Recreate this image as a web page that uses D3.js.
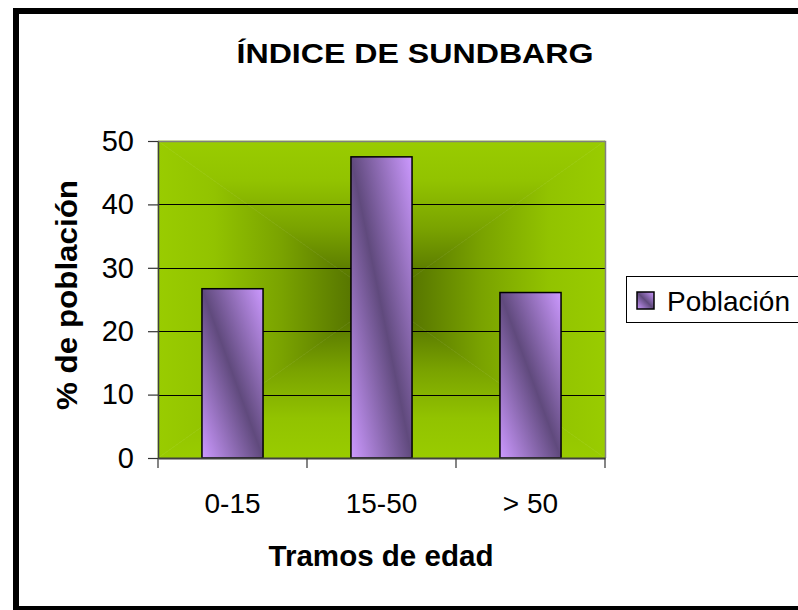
<!DOCTYPE html>
<html>
<head>
<meta charset="utf-8">
<script src="https://cdn.jsdelivr.net/npm/d3@7"></script>
<style>
  html, body { margin: 0; padding: 0; background: #fff; overflow: hidden; }
  svg { display: block; font-family: "Liberation Sans", Arial, sans-serif; }
</style>
</head>
<body>
<div id="chart"></div>
<script>
const categories = ["0-15", "15-50", "> 50"];
const values = [26.7, 47.5, 26.1];
const yTicks = [0, 10, 20, 30, 40, 50];
const seriesName = "Población";
const title = "ÍNDICE DE SUNDBARG";
const xTitle = "Tramos de edad";
const yTitle = "% de población";

const width = 798;
const height = 610;
const plot = { left: 158, top: 141, right: 605, bottom: 458 };

const svg = d3.select("#chart").append("svg")
  .attr("width", width)
  .attr("height", height);

const defs = svg.append("defs");

// bar fill: light corners, dark along the diagonal
const barGrad = defs.append("linearGradient")
  .attr("id", "barGrad")
  .attr("x1", 1).attr("y1", 0)
  .attr("x2", 0).attr("y2", 1);
barGrad.append("stop").attr("offset", 0).attr("stop-color", "#cc99ff");
barGrad.append("stop").attr("offset", 0.5).attr("stop-color", "#604a7d");
barGrad.append("stop").attr("offset", 1).attr("stop-color", "#cc99ff");

// outer chart border (right side runs off the picture)
svg.append("rect")
  .attr("x", 16).attr("y", 11)
  .attr("width", 830).attr("height", 598)
  .attr("fill", "#fff")
  .attr("stroke", "#000")
  .attr("stroke-width", 6);

const x = d3.scaleBand()
  .domain(categories)
  .range([plot.left, plot.right]);

const y = d3.scaleLinear()
  .domain([0, 50])
  .range([plot.bottom, plot.top]);

// plot background: rectangular "from center" gradient, four triangles
const cx = (plot.left + plot.right) / 2;
const cy = (plot.top + plot.bottom) / 2;
const light = "#99cc00";
const stops = [
  [0, light], [0.25, "#92c300"], [0.55, "#7aa300"], [0.8, "#5e7f00"], [1, "#4a6400"]
];
const sides = [
  { id: "gT", x1: 0, y1: plot.top, x2: 0, y2: cy,
    pts: [[plot.left, plot.top], [plot.right, plot.top], [cx, cy]] },
  { id: "gB", x1: 0, y1: plot.bottom, x2: 0, y2: cy,
    pts: [[plot.left, plot.bottom], [plot.right, plot.bottom], [cx, cy]] },
  { id: "gL", x1: plot.left, y1: 0, x2: cx, y2: 0,
    pts: [[plot.left, plot.top], [plot.left, plot.bottom], [cx, cy]] },
  { id: "gR", x1: plot.right, y1: 0, x2: cx, y2: 0,
    pts: [[plot.right, plot.top], [plot.right, plot.bottom], [cx, cy]] }
];
sides.forEach(s => {
  const g = defs.append("linearGradient")
    .attr("id", s.id)
    .attr("gradientUnits", "userSpaceOnUse")
    .attr("x1", s.x1).attr("y1", s.y1)
    .attr("x2", s.x2).attr("y2", s.y2);
  stops.forEach(st => g.append("stop").attr("offset", st[0]).attr("stop-color", st[1]));
  svg.append("path")
    .attr("d", d3.line()(s.pts) + "Z")
    .attr("fill", `url(#${s.id})`)
    .attr("stroke", `url(#${s.id})`)
    .attr("stroke-width", 0.6);
});

// gridlines
svg.append("g")
  .selectAll("line")
  .data(yTicks.filter(d => d > 0 && d < 50))
  .join("line")
  .attr("x1", plot.left).attr("x2", plot.right)
  .attr("y1", d => Math.round(y(d)) + 0.5)
  .attr("y2", d => Math.round(y(d)) + 0.5)
  .attr("stroke", "#000")
  .attr("stroke-width", 1);

// plot border top/right
svg.append("path")
  .attr("d", `M${plot.left},${plot.top + 0.5}H${plot.right + 0.5}V${plot.bottom}`)
  .attr("fill", "none")
  .attr("stroke", "#808080")
  .attr("stroke-width", 1.5);

// bars
const barW = x.bandwidth() * 0.41;
svg.append("g")
  .selectAll("rect")
  .data(values)
  .join("rect")
  .attr("x", (d, i) => x(categories[i]) + (x.bandwidth() - barW) / 2)
  .attr("y", d => y(d))
  .attr("width", barW)
  .attr("height", d => y(0) - y(d))
  .attr("fill", "url(#barGrad)")
  .attr("stroke", "#000")
  .attr("stroke-width", 1.5);

// y axis
const yAxis = svg.append("g")
  .attr("transform", `translate(${plot.left},0)`)
  .call(d3.axisLeft(y).tickValues(yTicks).tickSize(10).tickPadding(14).tickSizeOuter(0));
yAxis.select(".domain").attr("stroke", "#404040").attr("stroke-width", 1.5);
yAxis.selectAll(".tick line").attr("stroke", "#333").attr("stroke-width", 1.2);
yAxis.selectAll("text")
  .attr("font-size", 29)
  .attr("fill", "#000")
  .attr("font-family", "Liberation Sans, Arial, sans-serif");

// x axis (labels centered in bands, ticks at band edges)
const xAxis = svg.append("g")
  .attr("transform", `translate(0,${plot.bottom})`)
  .call(d3.axisBottom(x).tickSize(0).tickPadding(35).tickSizeOuter(0));
xAxis.select(".domain").attr("stroke", "#404040").attr("stroke-width", 2);
xAxis.selectAll("text")
  .attr("font-size", 28)
  .attr("fill", "#000")
  .attr("font-family", "Liberation Sans, Arial, sans-serif");

const edges = categories.map(c => x(c)).concat([x(categories[categories.length - 1]) + x.bandwidth()]);
svg.append("g")
  .selectAll("line")
  .data(edges)
  .join("line")
  .attr("x1", d => d).attr("x2", d => d)
  .attr("y1", plot.bottom).attr("y2", plot.bottom + 10)
  .attr("stroke", "#333")
  .attr("stroke-width", 1.2);

// titles
svg.append("text")
  .attr("x", 415).attr("y", 63)
  .attr("text-anchor", "middle")
  .attr("font-size", 28)
  .attr("font-weight", "bold")
  .attr("textLength", 357)
  .attr("lengthAdjust", "spacingAndGlyphs")
  .text(title);

svg.append("text")
  .attr("x", 381).attr("y", 566)
  .attr("text-anchor", "middle")
  .attr("font-size", 29)
  .attr("font-weight", "bold")
  .attr("textLength", 225)
  .attr("lengthAdjust", "spacingAndGlyphs")
  .text(xTitle);

svg.append("text")
  .attr("transform", `translate(77,295) rotate(-90)`)
  .attr("text-anchor", "middle")
  .attr("font-size", 29)
  .attr("font-weight", "bold")
  .attr("textLength", 230)
  .attr("lengthAdjust", "spacingAndGlyphs")
  .text(yTitle);

// legend
const legend = svg.append("g").attr("transform", "translate(626,276)");
legend.append("rect")
  .attr("x", 0.5).attr("y", 0.5)
  .attr("width", 200).attr("height", 46)
  .attr("fill", "#fff")
  .attr("stroke", "#000")
  .attr("stroke-width", 1);
legend.append("rect")
  .attr("x", 11).attr("y", 16)
  .attr("width", 17).attr("height", 17)
  .attr("fill", "url(#barGrad)")
  .attr("stroke", "#000")
  .attr("stroke-width", 1.5);
legend.append("text")
  .attr("x", 41).attr("y", 35)
  .attr("font-size", 28)
  .text(seriesName);
</script>
</body>
</html>
